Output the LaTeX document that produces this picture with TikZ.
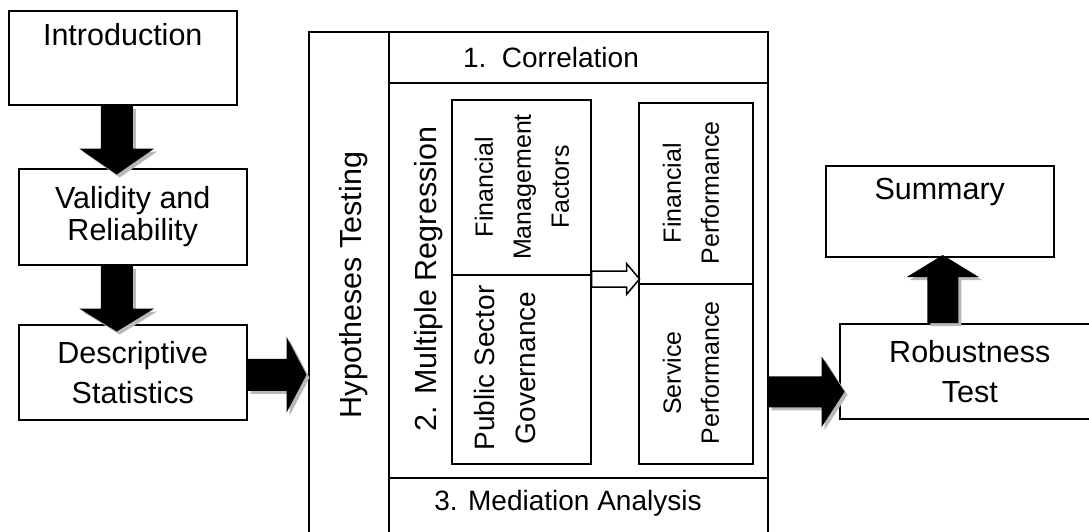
\documentclass[tikz,border=0pt]{standalone}
\usepackage{fontspec}
\setmainfont{Liberation Sans}
\usetikzlibrary{calc}

% block arrow: #1 angle, #2 base point, #3 shaft half width, #4 shaft length,
% #5 head half width, #6 head length; a grey drop shadow sits below it
\newcommand\blockarrow[6]{%
  \begin{scope}[shift={($#2+(3,3)$)},rotate=#1]
    \fill[blkshadow] (0,-#3) -- (#4,-#3) -- (#4,-#5) -- ({#4+#6},0)
      -- (#4,#5) -- (#4,#3) -- (0,#3) -- cycle;
  \end{scope}
  \begin{scope}[shift={#2},rotate=#1]
    \fill[blk] (0,-#3) -- (#4,-#3) -- (#4,-#5) -- ({#4+#6},0)
      -- (#4,#5) -- (#4,#3) -- (0,#3) -- cycle;
  \end{scope}}

\begin{document}
\begin{tikzpicture}[x=1pt,y=-1pt,
  box/.style={draw, line width=1.5pt, rectangle, inner sep=0pt, anchor=north west},
  big/.style={font=\fontsize{30.5}{40}\selectfont, align=center},
  midtext/.style={font=\fontsize{28}{33}\selectfont},
  vert/.style={font=\fontsize{30.5}{40}\selectfont, rotate=90},
  inner/.style={font=\fontsize{25}{38}\selectfont, align=center, rotate=90},
  blk/.style={fill=black},
  blkshadow/.style={fill=black!28},
  hollow/.style={draw, line width=1.5pt, fill=white, line join=miter}
]
\clip (0,0) rectangle (1089,531);
\fill[white] (0,0) rectangle (1089,531);

% left column of steps
\node[box, big, minimum width=228pt, minimum height=94pt] (intro) at (8,10)
  {\strut Introduction\\\strut};
\node[box, minimum width=228pt, minimum height=96pt,
  font=\fontsize{30.5}{32}\selectfont, align=center] (valid) at (18,168)
  {Validity and\\Reliability};
\node[box, big, minimum width=228pt, minimum height=95pt] (desc) at (18,324)
  {Descriptive\\Statistics};

% hypotheses testing block
\node[box, minimum width=80pt, minimum height=510pt] (hypcol) at (308,31) {};
\node[box, minimum width=379pt, minimum height=51pt] (corr) at (388,31) {};
\node[box, minimum width=379pt, minimum height=395pt] (regr) at (388,82) {};
\node[box, minimum width=379pt, minimum height=60pt] (med) at (388,477) {};
\node[vert] (hyptxt) at (354,285) {Hypotheses Testing};
\node[vert] (regtxt) at (429,279) {2. Multiple Regression};
\node[midtext] (corrtxt) at (551,57) {1.\hspace{0.55em}Correlation};
\node[midtext] (medtxt) at (568,503) {3. Mediation Analysis};

% regression variables
\node[box, minimum width=139pt, minimum height=175pt] (fmf) at (451,99) {};
\node[box, minimum width=139pt, minimum height=189pt] (psg) at (451,274) {};
\node[box, minimum width=114pt, minimum height=181pt] (fp) at (638,102) {};
\node[box, minimum width=114pt, minimum height=180pt] (sp) at (638,283) {};
\node[inner] (fmftxt) at (522,187) {Financial\\Management\\Factors};
\node[inner, font=\fontsize{28}{41}\selectfont] (psgtxt) at (505,368)
  {Public Sector\\Governance};
\node[inner] (fptxt) at (691,193) {Financial\\Performance};
\node[inner] (sptxt) at (691,373) {Service\\Performance};

% right column
\node[box, big, minimum width=228pt, minimum height=91pt] (summ) at (825,165)
  {\strut Summary\\\strut};
\node[box, big, minimum width=260pt, minimum height=95pt] (rob) at (839,323)
  {Robustness\\Test};

% hollow arrow between the regression variables
\coordinate (hs) at ($(psg.north east)+(0,5)$);
\draw[hollow] (hs) ++(0,-8) -- ++(35,0) -- ++(0,-7.5) -- ++(13,15.5)
  -- ++(-13,15.5) -- ++(0,-7.5) -- ++(-35,0) -- cycle;

% block arrows between the steps
\coordinate (a1) at ($(intro.south)+(-6,0)$);
\coordinate (a2) at ($(valid.south)+(-16,0)$);
\coordinate (a3) at ($(desc.east)+(0,2.5)$);
\coordinate (a4) at ($(hypcol.east -| med.east)+(0,105)$);
\coordinate (a5) at ($(rob.north)+(-27,0)$);
\blockarrow{-90}{(a1)}{16}{43}{37.5}{26}
\blockarrow{-90}{(a2)}{16}{43}{37.5}{23}
\blockarrow{0}{(a3)}{16}{39}{38}{20}
\blockarrow{0}{(a4)}{15.5}{53}{35.5}{23}
\blockarrow{90}{(a5)}{15.5}{46}{36}{22}
\end{tikzpicture}
\end{document}
